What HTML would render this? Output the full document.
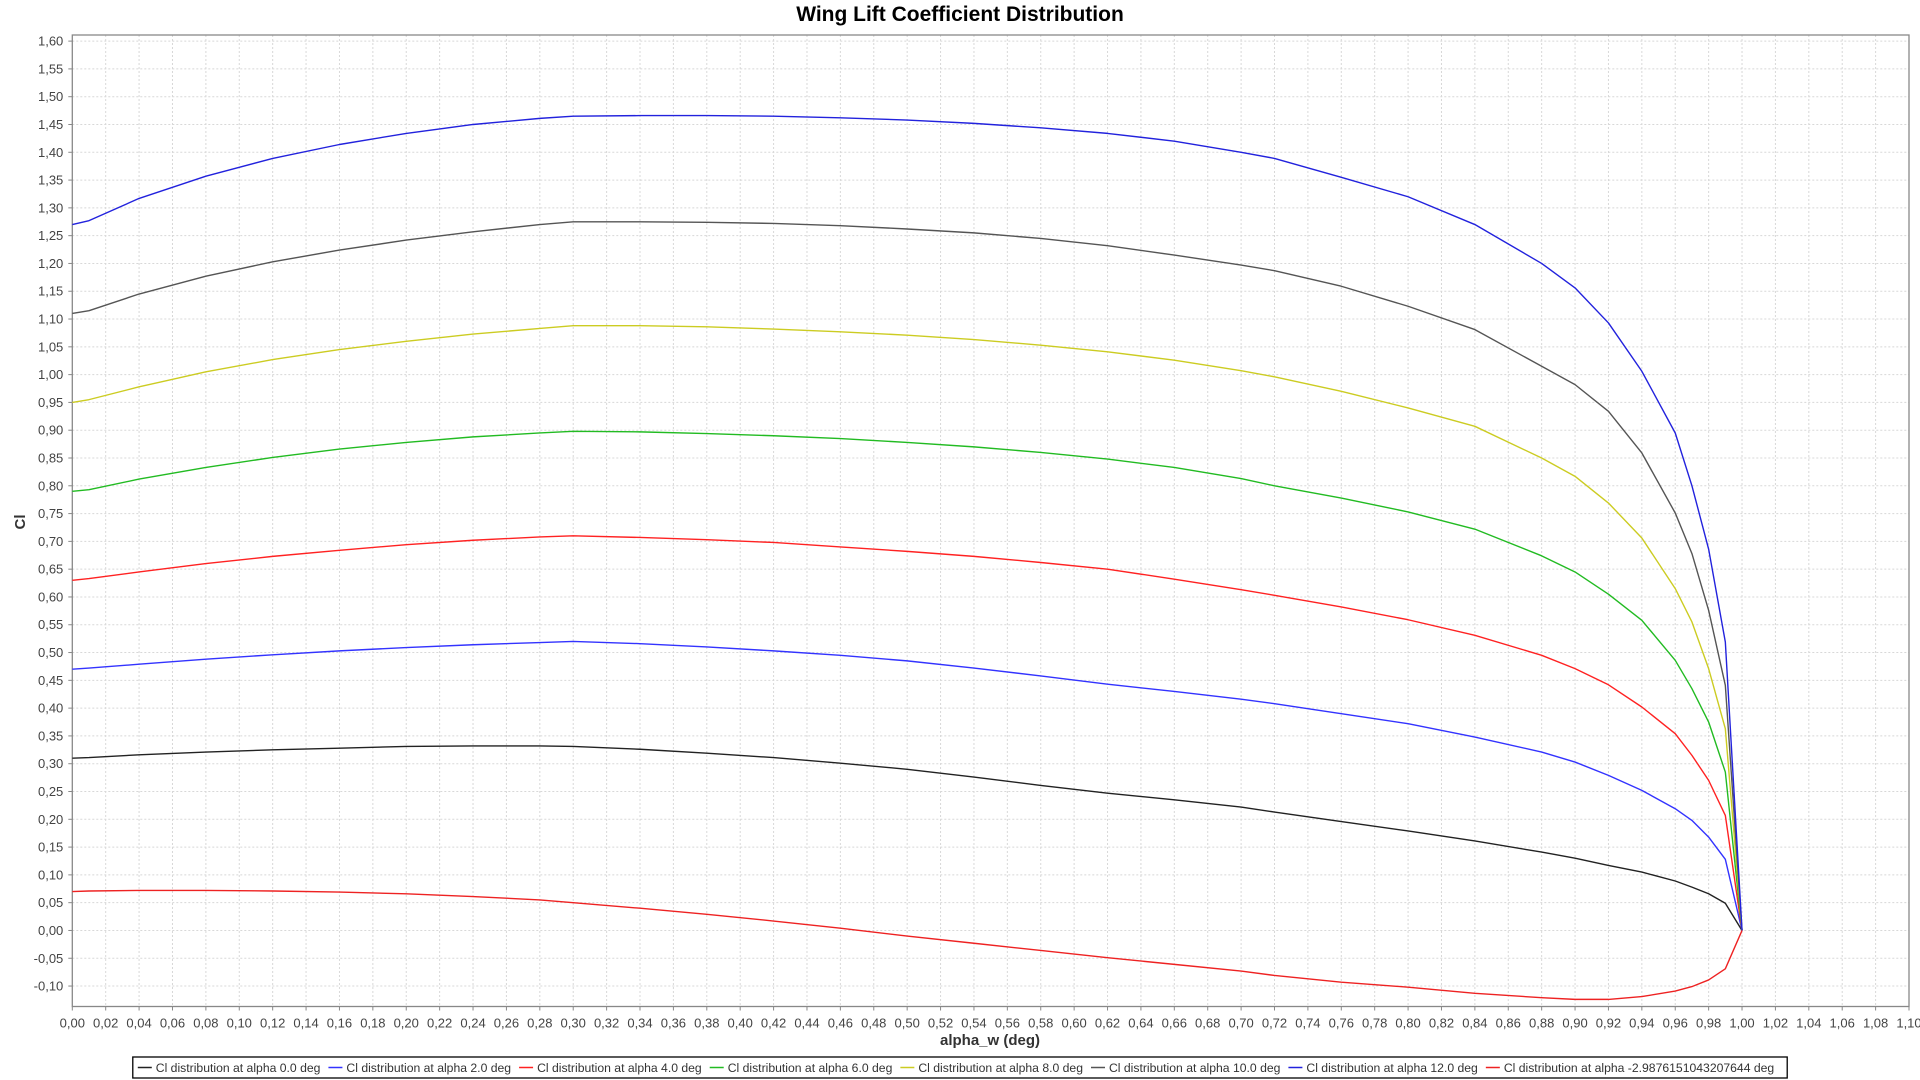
<!DOCTYPE html>
<html><head><meta charset="utf-8"><style>
body{margin:0;background:#fff;width:1920px;height:1080px;overflow:hidden;font-family:"Liberation Sans",sans-serif}
svg{position:absolute;left:0;top:0}
</style></head><body>
<svg id="chart" width="1920" height="1080"></svg>
<script>
const xVals=[0,0.01,0.04,0.08,0.12,0.16,0.20,0.24,0.28,0.30,0.34,0.38,0.42,0.46,0.50,0.54,0.58,0.62,0.66,0.70,0.72,0.76,0.80,0.84,0.88,0.90,0.92,0.94,0.96,0.97,0.98,0.99,1.0];
const seriesNames=["Cl distribution at alpha 0.0 deg","Cl distribution at alpha 2.0 deg","Cl distribution at alpha 4.0 deg","Cl distribution at alpha 6.0 deg","Cl distribution at alpha 8.0 deg","Cl distribution at alpha 10.0 deg","Cl distribution at alpha 12.0 deg","Cl distribution at alpha -2.9876151043207644 deg"];
const seriesColors=["#222222","#3333ff","#ff2222","#22bb22","#cccc22","#555555","#2222dd","#ee2222"];
const s0=[0.31,0.311,0.316,0.321,0.325,0.328,0.331,0.332,0.332,0.331,0.326,0.319,0.311,0.301,0.290,0.276,0.261,0.247,0.235,0.222,0.213,0.196,0.179,0.161,0.141,0.130,0.117,0.105,0.089,0.078,0.066,0.049,0];
const s2=[0.47,0.472,0.479,0.488,0.496,0.503,0.509,0.514,0.518,0.52,0.516,0.51,0.503,0.495,0.485,0.472,0.458,0.443,0.430,0.416,0.408,0.39,0.372,0.348,0.321,0.303,0.279,0.252,0.219,0.198,0.168,0.128,0];
const s4=[0.63,0.633,0.645,0.66,0.673,0.684,0.694,0.702,0.708,0.71,0.707,0.703,0.698,0.690,0.682,0.673,0.662,0.650,0.632,0.613,0.603,0.582,0.559,0.531,0.495,0.471,0.442,0.402,0.354,0.315,0.27,0.207,0];
const s6=[0.79,0.793,0.812,0.833,0.851,0.866,0.878,0.888,0.895,0.898,0.897,0.894,0.89,0.885,0.878,0.870,0.860,0.848,0.833,0.813,0.800,0.778,0.753,0.722,0.674,0.645,0.605,0.558,0.486,0.435,0.375,0.285,0];
const s8=[0.95,0.955,0.978,1.005,1.027,1.045,1.06,1.073,1.083,1.088,1.088,1.086,1.082,1.077,1.071,1.063,1.053,1.041,1.026,1.007,0.996,0.970,0.940,0.907,0.85,0.817,0.769,0.706,0.615,0.555,0.471,0.363,0];
const s10=[1.11,1.115,1.145,1.177,1.203,1.224,1.242,1.257,1.270,1.275,1.275,1.274,1.272,1.268,1.262,1.255,1.245,1.232,1.215,1.197,1.187,1.159,1.123,1.081,1.015,0.982,0.934,0.859,0.751,0.678,0.576,0.441,0];
const s12=[1.27,1.277,1.317,1.357,1.389,1.414,1.434,1.450,1.461,1.465,1.466,1.466,1.465,1.462,1.458,1.452,1.444,1.434,1.420,1.400,1.389,1.355,1.32,1.27,1.20,1.156,1.093,1.006,0.895,0.80,0.686,0.519,0];
const sNeg=[0.07,0.071,0.072,0.072,0.071,0.069,0.066,0.061,0.055,0.05,0.04,0.029,0.017,0.004,-0.01,-0.023,-0.036,-0.049,-0.061,-0.073,-0.081,-0.093,-0.102,-0.113,-0.121,-0.124,-0.124,-0.119,-0.109,-0.101,-0.089,-0.069,0];
const allSeries=[s0,s2,s4,s6,s8,s10,s12,sNeg];
const xMin=0,xMax=1.1,yMin=-0.1368,yMax=1.611;
const L=72.3,R=1909,T=35,B=1006.5;
const xs=v=>L+(v-xMin)/(xMax-xMin)*(R-L);
const ys=v=>B-(v-yMin)/(yMax-yMin)*(B-T);
const NS="http://www.w3.org/2000/svg";
const svg=document.getElementById('chart');
function mk(tag,attrs,parent){const e=document.createElementNS(NS,tag);for(const k in attrs)e.setAttribute(k,attrs[k]);(parent||svg).appendChild(e);return e;}
const fmt=v=>v.toFixed(2).replace('.',',');
const grid=mk('g',{});


for(let i=0;i<=55;i++){const v=i*0.02;const x=xs(v);
 if(i>0&&i<55)mk('line',{x1:x,x2:x,y1:T,y2:B,stroke:'#d8d8d8','stroke-dasharray':'2,2'},grid);
 mk('line',{x1:x,x2:x,y1:B,y2:B+4,stroke:'#888'});
 const t=mk('text',{x:x,y:B+21,'text-anchor':'middle','font-size':'13','fill':'#444'});t.textContent=fmt(v);
 
 
}
for(let i=-2;i<=32;i++){const v=i*0.05;const y=ys(v);
 mk('line',{x1:L,x2:R,y1:y,y2:y,stroke:'#d8d8d8','stroke-dasharray':'2,2'},grid);
 mk('line',{x1:L-4,x2:L,y1:y,y2:y,stroke:'#888'});
 const t=mk('text',{x:L-9,y:y+4.5,'text-anchor':'end','font-size':'13','fill':'#444'});t.textContent=fmt(v);
 
 
}
mk('rect',{x:L,y:T,width:R-L,height:B-T,fill:'none',stroke:'#888','stroke-width':1.3});
allSeries.forEach((s,k)=>{
 const p=mk('polyline',{points:s.map((v,i)=>xs(xVals[i])+','+ys(v)).join(' '),fill:'none',stroke:seriesColors[k],'stroke-width':1.4,'stroke-linejoin':'round'});
 
 
});
const title=mk('text',{x:960,y:21,'text-anchor':'middle','font-size':'21','font-weight':'bold',fill:'#000'});title.textContent='Wing Lift Coefficient Distribution';


const xt=mk('text',{x:990,y:1045,'text-anchor':'middle','font-size':'15','font-weight':'bold',fill:'#333'});xt.textContent='alpha_w (deg)';


const yt=mk('text',{x:0,y:0,transform:'translate(25,522) rotate(-90)','text-anchor':'middle','font-size':'15','font-weight':'bold',fill:'#333'});yt.textContent='Cl';


const lg=mk('g',{});


const box=mk('rect',{x:134,y:1057,width:1652,height:21,fill:'#fff',stroke:'#000','stroke-width':1.3},lg);
let cx=139;
seriesNames.forEach((n,k)=>{
 const g=mk('g',{},lg);
 
 
 mk('line',{x1:cx,x2:cx+14,y1:1067.5,y2:1067.5,stroke:seriesColors[k],'stroke-width':1.5},g);
 const t=mk('text',{x:cx+18,y:1072,'font-size':'12.2',fill:'#333'},g);t.textContent=n;
 cx+=18+t.getComputedTextLength()+8;
});
const w=cx-139+5;
box.setAttribute('width',w+5);box.setAttribute('x',960-(w+5)/2);
Array.from(lg.querySelectorAll('g')).forEach(g=>g.setAttribute('transform','translate('+(960-(w+5)/2-134)+',0)'));
</script>
</body></html>
